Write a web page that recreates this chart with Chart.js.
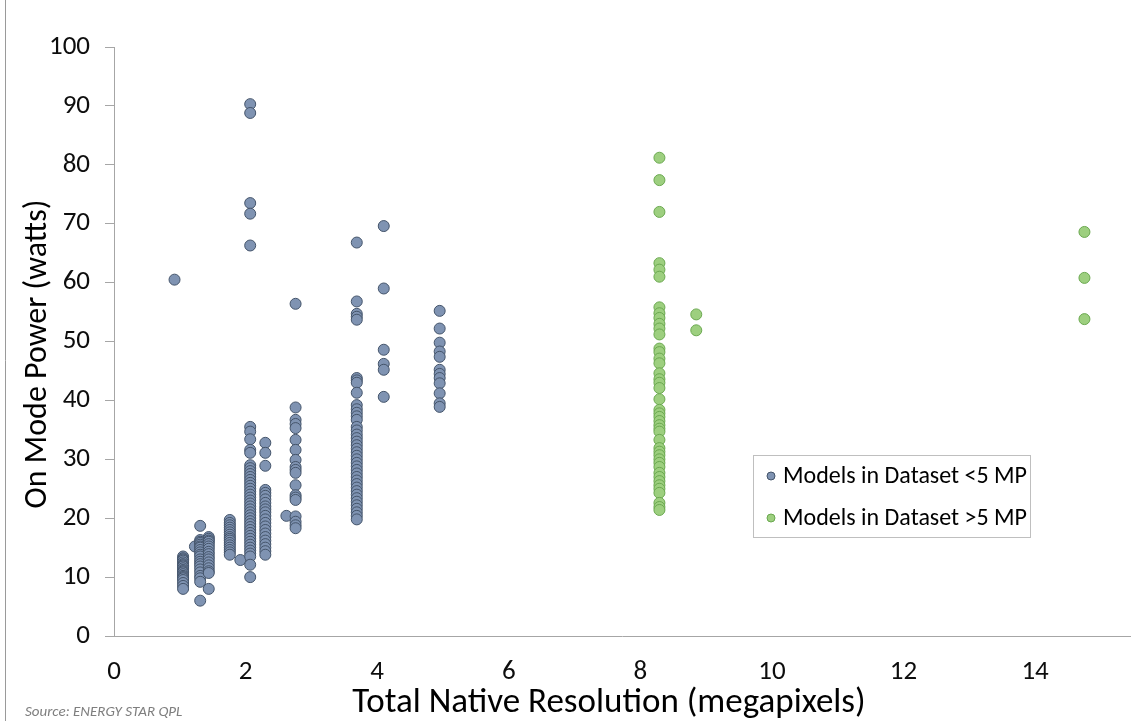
<!DOCTYPE html>
<html>
<head>
<meta charset="utf-8">
<script src="https://cdn.jsdelivr.net/npm/chart.js@4.4.1/dist/chart.umd.min.js"></script>
<style>
  html, body { margin: 0; padding: 0; background: #fff; }
  #wrap { width: 1137px; height: 721px; position: relative; }
</style>
</head>
<body>
<div id="wrap"><canvas id="chart" width="1137" height="721"></canvas></div>
<script>
// resolution (megapixels) and on mode power (watts)
const smallResolutions = [0.92, 1.05, 1.23, 1.31, 1.44, 1.76, 1.92, 2.07, 2.30, 2.62, 2.76, 3.69, 4.10, 4.95];
const smallPower = [
  [60.5],
  [13.5, 13.2, 13.0, 12.8, 12.5, 12.2, 12.0, 11.8, 11.5, 11.2, 11.0, 10.8, 10.5, 10.2, 10.0, 9.8, 9.5, 9.0, 8.5, 8.0],
  [15.2],
  [18.7, 16.3, 16.0, 15.8, 15.5, 15.2, 15.0, 14.6, 14.2, 13.8, 13.5, 13.0, 12.6, 12.2, 11.8, 11.3, 10.8, 10.2, 9.8, 9.2, 6.0],
  [16.8, 16.5, 16.2, 16.0, 15.6, 15.2, 14.8, 14.3, 13.9, 13.4, 13.0, 12.5, 12.0, 11.5, 11.0, 10.7, 8.0],
  [19.7, 19.2, 18.8, 18.4, 18.0, 17.6, 17.2, 16.8, 16.5, 16.2, 15.8, 15.4, 15.0, 14.6, 14.2, 13.8],
  [12.9],
  [90.3, 88.8, 73.5, 71.7, 66.3, 35.5, 34.7, 33.4, 31.6, 31.1, 29.0, 28.5, 28.0, 27.5, 27.0, 26.5, 26.0, 25.5, 25.0,
   24.5, 24.0, 23.5, 23.0, 22.5, 22.0, 21.5, 21.0, 20.5, 20.0, 19.5, 19.0, 18.5, 18.0, 17.5, 17.0, 16.5, 16.0, 15.5,
   15.0, 14.5, 14.0, 13.5, 12.1, 10.0],
  [32.8, 31.1, 28.9, 24.8, 24.3, 23.8, 23.2, 22.6, 22.0, 21.5, 21.0, 20.4, 19.8, 19.2, 18.6, 18.0, 17.4, 16.8, 16.2,
   15.6, 15.0, 14.4, 13.8],
  [20.4],
  [56.4, 38.8, 36.7, 36.0, 35.3, 33.3, 31.6, 29.9, 28.7, 28.2, 27.7, 25.6, 23.9, 23.5, 23.1, 20.3, 19.4, 18.8, 18.3],
  [66.8, 56.8, 54.7, 54.2, 53.7, 43.8, 43.4, 43.0, 41.3, 39.2, 38.5, 37.9, 37.3, 36.7, 35.5, 34.9, 34.2, 33.6, 33.0,
   32.4, 31.8, 31.2, 30.6, 30.0, 29.4, 28.8, 28.2, 27.6, 27.0, 26.4, 25.8, 25.2, 24.6, 24.0, 23.4, 22.8, 22.2, 21.6,
   21.0, 20.4, 19.8],
  [69.6, 59.0, 48.6, 46.2, 45.2, 40.6],
  [55.2, 52.2, 49.8, 48.3, 47.4, 45.2, 44.5, 43.8, 42.9, 41.2, 39.5, 38.9]
];

const largeResolutions = [8.29, 8.85, 14.75];
const largePower = [
  [81.2, 77.4, 72.0, 63.3, 62.2, 61.0, 55.8, 54.8, 54.0, 53.0, 52.2, 51.2, 48.8, 48.2, 47.1, 46.3, 44.6, 43.6, 43.0,
   42.1, 40.2, 38.4, 37.8, 37.2, 36.5, 35.8, 35.2, 34.7, 33.3, 31.9, 31.3, 30.7, 30.0, 29.4, 28.7, 27.7, 27.0, 26.3,
   25.6, 25.0, 24.3, 22.6, 21.9, 21.4],
  [54.6, 51.9],
  [68.6, 60.8, 53.8]
];

const xTicks = [0, 2, 4, 6, 8, 10, 12, 14];
const xTitle = 'Total Native Resolution (megapixels)';
const yTitle = 'On Mode Power (watts)';
const sourceNote = 'Source: ENERGY STAR QPL';
const FONT = 'Carlito, Lato, sans-serif';

function toPoints(xs, ys) {
  return xs.flatMap((x, i) => ys[i].map(y => ({x: x, y: y})));
}

// frame, axis titles, legend box and source note drawn on the canvas
const extras = {
  id: 'extras',
  beforeDraw(chart) {
    const ctx = chart.ctx;
    ctx.save();
    ctx.strokeStyle = '#9a9a9a';
    ctx.lineWidth = 1;
    ctx.beginPath();
    ctx.moveTo(5.5, 0);
    ctx.lineTo(5.5, 721);
    ctx.stroke();
    ctx.restore();
  },
  afterDraw(chart) {
    const ctx = chart.ctx;
    ctx.save();
    ctx.fillStyle = '#000';
    ctx.textAlign = 'center';
    ctx.textBaseline = 'middle';
    ctx.font = '35px ' + FONT;
    ctx.fillText(xTitle, 609, 703);
    ctx.translate(38, 354);
    ctx.rotate(-Math.PI / 2);
    ctx.font = '32px ' + FONT;
    ctx.fillText(yTitle, 0, 0);
    ctx.restore();

    ctx.save();
    ctx.fillStyle = '#fff';
    ctx.strokeStyle = '#bfbfbf';
    ctx.lineWidth = 1;
    ctx.fillRect(753.5, 455.5, 277, 82);
    ctx.strokeRect(753.5, 455.5, 277, 82);
    chart.data.datasets.forEach((ds, i) => {
      const y = 476 + i * 42;
      ctx.beginPath();
      ctx.arc(771, y, 4, 0, Math.PI * 2);
      ctx.fillStyle = ds.backgroundColor;
      ctx.fill();
      ctx.strokeStyle = ds.borderColor;
      ctx.stroke();
      ctx.fillStyle = '#000';
      ctx.font = '24px ' + FONT;
      ctx.textBaseline = 'middle';
      ctx.textAlign = 'left';
      ctx.fillText(ds.label, 783, y + 1);
    });
    ctx.fillStyle = '#7f7f7f';
    ctx.font = 'italic 15px ' + FONT;
    ctx.textBaseline = 'middle';
    ctx.fillText(sourceNote, 25, 712);
    ctx.restore();
  }
};

new Chart(document.getElementById('chart'), {
  type: 'scatter',
  data: {
    datasets: [
      {
        label: 'Models in Dataset <5 MP',
        data: toPoints(smallResolutions, smallPower),
        backgroundColor: '#7f93b2',
        borderColor: '#44546a',
        borderWidth: 1,
        pointRadius: 5.5,
        pointHoverRadius: 5.5
      },
      {
        label: 'Models in Dataset >5 MP',
        data: toPoints(largeResolutions, largePower),
        backgroundColor: '#9dcf7f',
        borderColor: '#6aa84f',
        borderWidth: 1,
        pointRadius: 5.5,
        pointHoverRadius: 5.5
      }
    ]
  },
  options: {
    responsive: false,
    animation: false,
    clip: false,
    layout: { padding: { top: 47, right: 0, bottom: 0, left: 0 } },
    plugins: { legend: { display: false }, tooltip: { enabled: false } },
    scales: {
      x: {
        type: 'linear',
        min: 0,
        max: 15.45,
        afterBuildTicks: scale => { scale.ticks = xTicks.map(v => ({value: v})); },
        afterFit: scale => { scale.height = 85; },
        border: { color: '#a6a6a6', width: 1 },
        grid: { display: true, drawOnChartArea: false, drawTicks: false },
        ticks: { padding: 20, color: '#0d0d0d', font: { family: FONT, size: 27 } }
      },
      y: {
        min: 0,
        max: 100,
        afterFit: scale => { scale.width = 114; },
        border: { color: '#a6a6a6', width: 1 },
        grid: { display: true, drawOnChartArea: false, drawTicks: true, tickLength: 9, color: '#a6a6a6' },
        ticks: { stepSize: 10, padding: 15, color: '#0d0d0d', font: { family: FONT, size: 27 } }
      }
    }
  },
  plugins: [extras]
});
</script>
</body>
</html>
